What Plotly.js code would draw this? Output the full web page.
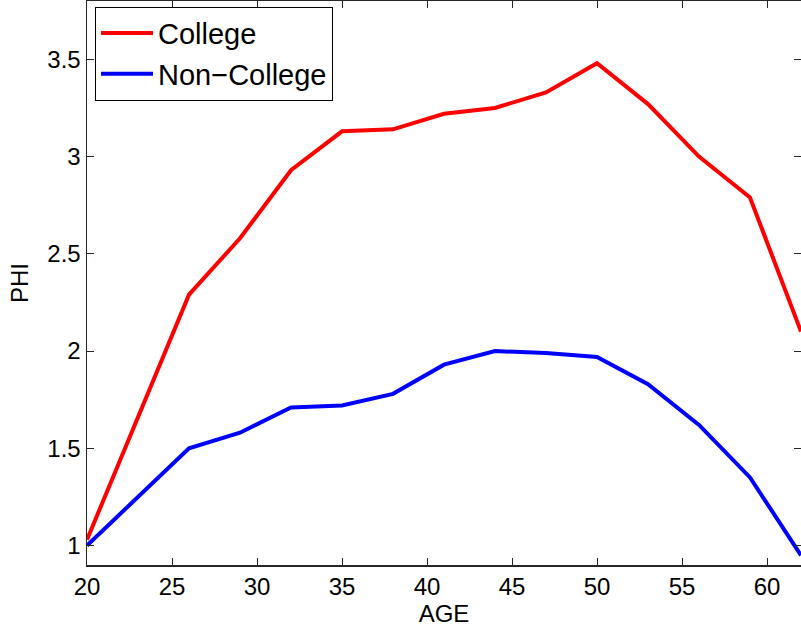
<!DOCTYPE html>
<html>
<head>
<meta charset="utf-8">
<script src="https://cdn.plot.ly/plotly-3.0.1.min.js"></script>
<style>html,body{margin:0;padding:0;background:#fff;}#chart{width:801px;height:628px;}</style>
</head>
<body>
<div id="chart"></div>
<script>
const ages = [20, 23, 26, 29, 32, 35, 38, 41, 44, 47, 50, 53, 56, 59, 62];
const college = [1.03, 1.66, 2.29, 2.58, 2.93, 3.13, 3.14, 3.22, 3.25, 3.33, 3.48, 3.27, 3.00, 2.79, 2.10];
const nonCollege = [1.00, 1.25, 1.50, 1.58, 1.71, 1.72, 1.78, 1.93, 2.00, 1.99, 1.97, 1.83, 1.62, 1.35, 0.95];
const seriesNames = ["College", "Non\u2212College"];
const xTicks = [20, 25, 30, 35, 40, 45, 50, 55, 60];
const yTicks = [1, 1.5, 2, 2.5, 3, 3.5];

const FONT = "Liberation Sans, Arial, Helvetica, sans-serif";

const traces = [
  {x: ages, y: college, name: seriesNames[0], mode: "lines", line: {color: "#ff0000", width: 4}},
  {x: ages, y: nonCollege, name: seriesNames[1], mode: "lines", line: {color: "#0000ff", width: 4}}
];

const axisCommon = {
  showline: true, linecolor: "#262626", linewidth: 1.5, mirror: "ticks",
  ticks: "inside", ticklen: 7, tickwidth: 1, tickcolor: "#262626",
  showgrid: false, zeroline: false,
  tickfont: {family: FONT, size: 24, color: "#000"}
};

const layout = {
  width: 801, height: 628,
  margin: {l: 87, r: 0, t: 1, b: 63},
  paper_bgcolor: "#fff", plot_bgcolor: "#fff",
  showlegend: true,
  legend: {
    x: 0.0112, y: 0.99, xanchor: "left", yanchor: "top",
    bordercolor: "#000", borderwidth: 1, bgcolor: "#fff",
    font: {family: FONT, size: 29, color: "#000"},
    itemwidth: 52, tracegroupgap: 0
  },
  xaxis: Object.assign({}, axisCommon, {
    range: [20, 62], tickvals: xTicks, ticktext: xTicks.map(String),
    title: {text: "AGE", standoff: 2, font: {family: FONT, size: 24, color: "#000"}}
  }),
  yaxis: Object.assign({}, axisCommon, {
    range: [0.9, 3.8], tickvals: yTicks, ticktext: yTicks.map(String),
    title: {text: "PHI", standoff: 12, font: {family: FONT, size: 24, color: "#000"}}
  })
};

Plotly.newPlot("chart", traces, layout, {displayModeBar: false, staticPlot: true});
</script>
</body>
</html>
